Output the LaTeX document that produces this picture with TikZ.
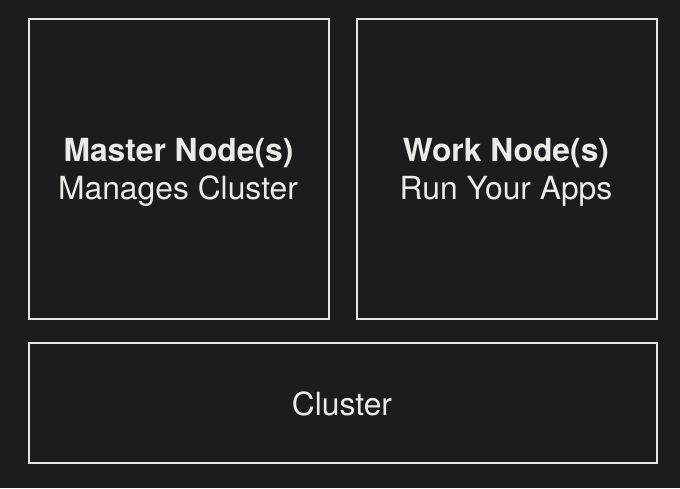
\documentclass[tikz,border=0pt]{standalone}
\usepackage{fontspec}
\setmainfont{TeX Gyre Heros}
\usetikzlibrary{positioning}

\definecolor{bgdark}{HTML}{1B1C1E}
\definecolor{linegray}{HTML}{E6E6E4}
\definecolor{textgray}{HTML}{ECEBE6}

\begin{document}
\begin{tikzpicture}[x=1pt, y=-1pt]

%% ---- Background / canvas ----
\fill[bgdark] (0,0) rectangle (680,488);
\useasboundingbox (0,0) rectangle (680,488);

\tikzset{
  nodebox/.style={draw=linegray, line width=1.5pt, inner sep=0pt},
  title/.style={text=textgray, font=\fontsize{31.8}{36}\selectfont\bfseries, anchor=base},
  caption/.style={text=textgray, font=\fontsize{31.8}{36}\selectfont, anchor=base}
}

%% ---- Boxes ----
\node[nodebox, minimum width=300pt, minimum height=300pt] (master) at (179,169) {};
\node[nodebox, minimum width=300pt, minimum height=300pt] (work) at (507,169) {};
\node[nodebox, minimum width=628pt, minimum height=120pt] (cluster) at (343,403) {};

%% ---- Texts ----
\node[title]   (masterT) at (178.5,161) {Master Node(s)};
\node[caption] (masterC) at (178,199) {Manages Cluster};
\node[title]   (workT)   at (506,161) {Work Node(s)};
\node[caption] (workC)   at (506,199) {Run Your Apps};
\node[caption] (clusterT) at (342,415) {Cluster};

\end{tikzpicture}
\end{document}
